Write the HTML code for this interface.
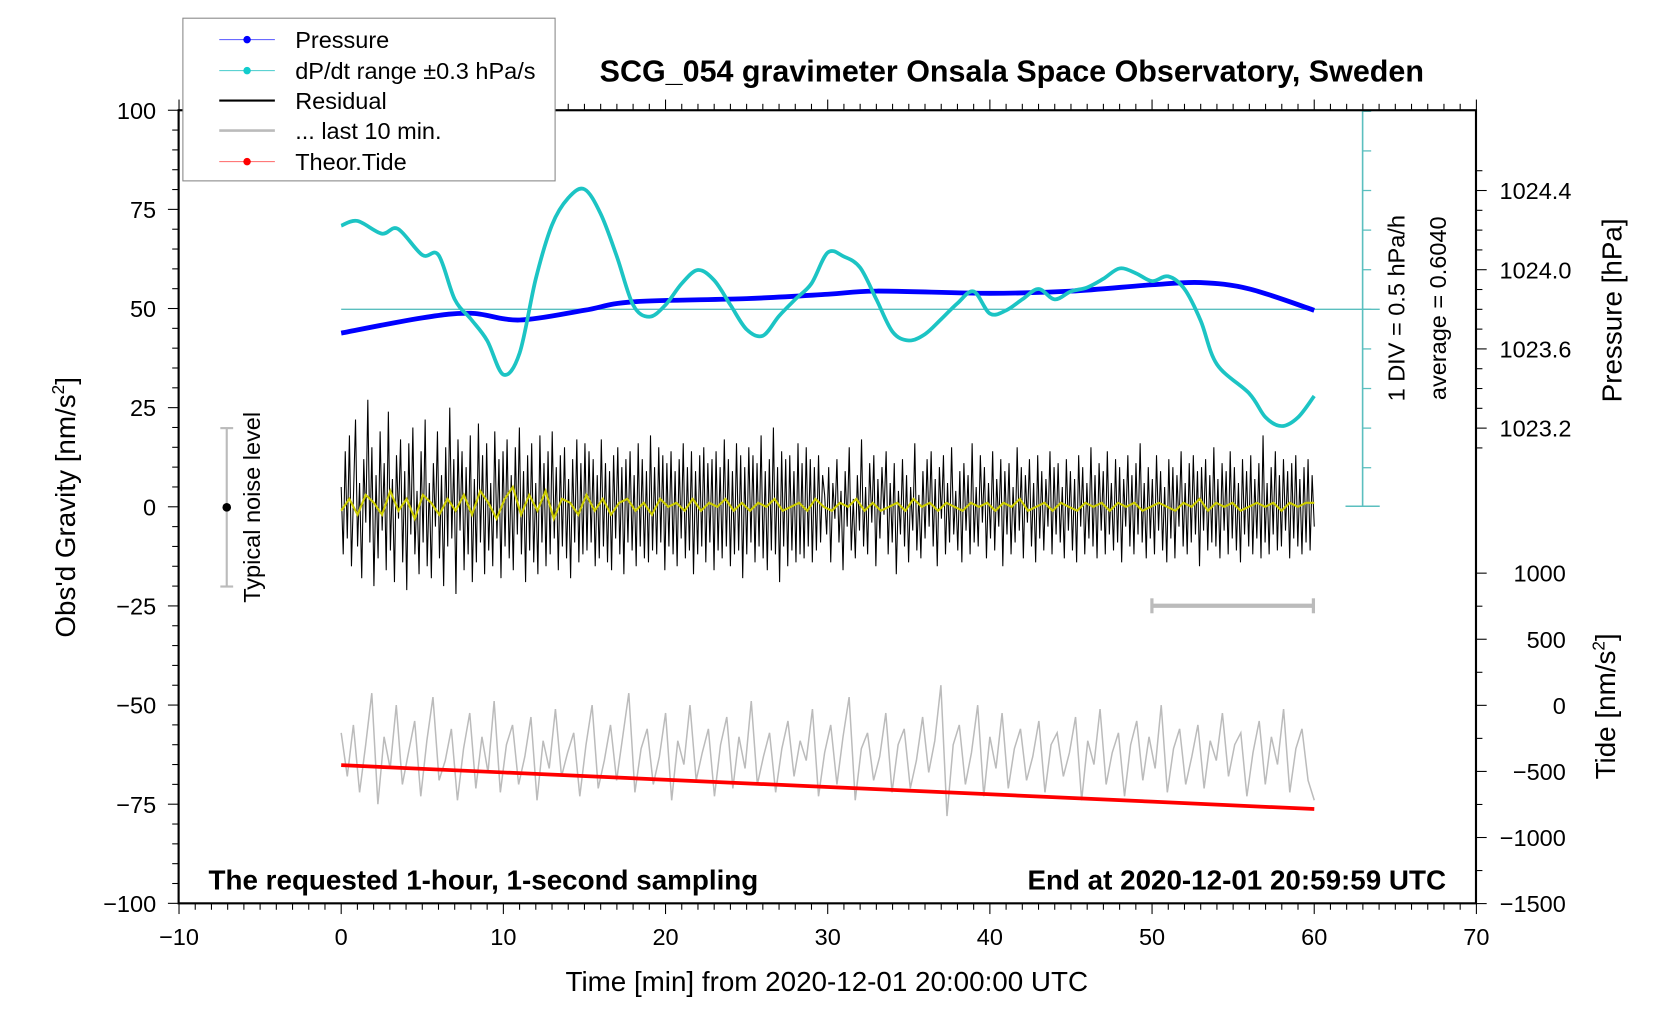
<!DOCTYPE html>
<html><head><meta charset="utf-8"><style>
html,body{margin:0;padding:0;background:#fff;}
svg{display:block;font-family:"Liberation Sans",sans-serif;}
</style></head><body>
<svg id="chart" width="1676" height="1020" viewBox="0 0 1567 953" preserveAspectRatio="none" xmlns="http://www.w3.org/2000/svg">
<rect x="0" y="0" width="1567" height="953" fill="#fff"/>
<g id="plot"></g>
<g id="axes"></g>
<text x="946" y="76" font-size="28.5" font-weight="bold" text-anchor="middle">SCG_054 gravimeter Onsala Space Observatory, Sweden</text>
<text x="195" y="831" font-size="26" font-weight="bold">The requested 1-hour, 1-second sampling</text>
<text x="1352" y="831" font-size="26" font-weight="bold" text-anchor="end">End at 2020-12-01 20:59:59 UTC</text>
<text x="773" y="926" font-size="26" text-anchor="middle">Time [min] from 2020-12-01 20:00:00 UTC</text>
<text transform="translate(70,474) rotate(-90)" font-size="26" text-anchor="middle">Obs'd Gravity [nm/s<tspan font-size="16" dy="-10">2</tspan><tspan dy="10">]</tspan></text>
<text transform="translate(1516,290) rotate(-90)" font-size="26" text-anchor="middle">Pressure [hPa]</text>
<text transform="translate(1510,660) rotate(-90)" font-size="26" text-anchor="middle">Tide [nm/s<tspan font-size="16" dy="-10">2</tspan><tspan dy="10">]</tspan></text>
<text transform="translate(1313,288) rotate(-90)" font-size="22" text-anchor="middle">1 DIV = 0.5 hPa/h</text>
<text transform="translate(1352,288) rotate(-90)" font-size="22" text-anchor="middle">average = 0.6040</text>
<g>
<line x1="212" y1="400" x2="212" y2="548" stroke="#bbb" stroke-width="2"/>
<line x1="206" y1="400" x2="218" y2="400" stroke="#bbb" stroke-width="2"/>
<line x1="206" y1="548" x2="218" y2="548" stroke="#bbb" stroke-width="2"/>
<circle cx="212" cy="474" r="4" fill="#000"/>
<text transform="translate(243,474) rotate(-90)" font-size="22" text-anchor="middle">Typical noise level</text>
</g>
<g>
<line x1="1077" y1="566" x2="1228" y2="566" stroke="#bbb" stroke-width="4"/>
<line x1="1077" y1="559" x2="1077" y2="573" stroke="#bbb" stroke-width="3"/>
<line x1="1228" y1="559" x2="1228" y2="573" stroke="#bbb" stroke-width="3"/>
</g>
<g>
<rect x="171" y="17" width="348" height="152" fill="#fff" stroke="#888" stroke-width="1"/>
<g><line x1="205" y1="37" x2="257" y2="37" stroke="#55f" stroke-width="1"/><circle cx="231" cy="37" r="3.5" fill="#00f"/><text x="276" y="45" font-size="22">Pressure</text></g>
<g><line x1="205" y1="66" x2="257" y2="66" stroke="#4cc" stroke-width="1"/><circle cx="231" cy="66" r="3.5" fill="#1cc"/><text x="276" y="74" font-size="22">dP/dt range ±0.3 hPa/s</text></g>
<g><line x1="205" y1="94" x2="257" y2="94" stroke="#000" stroke-width="2"/><text x="276" y="102" font-size="22">Residual</text></g>
<g><line x1="205" y1="122" x2="257" y2="122" stroke="#bbb" stroke-width="2.5"/><text x="276" y="130" font-size="22">... last 10 min.</text></g>
<g><line x1="205" y1="151" x2="257" y2="151" stroke="#f66" stroke-width="1"/><circle cx="231" cy="151" r="3.5" fill="#f00"/><text x="276" y="159" font-size="22">Theor.Tide</text></g>
</g>
</svg>
<script>
const pressT=[0,5,8,11,15,18,25,30,33,40,45,50,53,56,60];
const pressV=[1023.68,1023.757,1023.78,1023.746,1023.795,1023.838,1023.854,1023.876,1023.892,1023.881,1023.892,1023.924,1023.935,1023.903,1023.795];
const dpT=[0,1,2.5,3.5,5,6,7,8,9,10,11,12,13,14,15,16,17,18,19,20,21,22,23,24,25,26,27,28,29,30,31,32,33,34,35,36,37,38,39,40,41,42,43,44,45,46,47,48,49,50,51,52,53,54,56,57,58,59,60];
const dpV=[1.66,1.72,1.56,1.62,1.29,1.29,0.73,0.48,0.21,-0.22,0.05,0.99,1.67,2.01,2.12,1.81,1.27,0.66,0.51,0.66,0.93,1.10,0.97,0.66,0.35,0.27,0.52,0.73,0.93,1.32,1.27,1.13,0.73,0.32,0.21,0.29,0.48,0.68,0.83,0.55,0.59,0.73,0.86,0.73,0.83,0.88,0.99,1.12,1.06,0.96,1.02,0.86,0.46,-0.09,-0.46,-0.76,-0.87,-0.76,-0.49];
const residV=[5,-12,14,-8,18,-15,3,22,-10,6,-18,12,-4,27,-9,15,-20,8,-13,19,-6,11,-16,24,-11,7,-19,13,-3,17,-14,9,-21,16,-7,20,-12,4,-17,14,
-9,22,-15,6,-18,11,-5,19,-13,8,-20,15,-10,25,-8,12,-22,17,-6,14,-16,10,-12,18,-19,7,-14,21,-9,13,-17,16,-11,6,-15,19,-8,12,-18,14,
-10,17,-13,8,-16,15,-7,20,-12,9,-19,13,-11,16,-14,6,-17,18,-9,11,-15,14,-12,19,-8,10,-16,13,-10,15,-13,7,-18,12,-9,17,-14,11,-12,16,
-11,14,-9,12,-15,8,-13,17,-10,11,-14,9,-16,13,-8,15,-12,10,-17,12,-9,14,-11,8,-15,16,-10,12,-13,9,-14,18,-11,10,-12,15,-9,13,-16,11,
-10,14,-12,9,-15,12,-8,16,-13,10,-11,14,-17,9,-12,13,-10,15,-14,11,-9,12,-16,14,-11,10,-13,17,-10,12,-15,9,-12,16,-11,13,-18,10,
-12,15,-9,13,-14,11,-10,18,-13,9,-16,12,-11,20,-12,10,-19,14,-10,12,-15,13,-11,9,-14,16,-12,11,-13,15,-10,12,-14,10,-11,13,-9,8,
3,-7,10,-14,6,-3,12,-9,4,-16,9,-5,15,-11,2,-13,8,-6,17,-10,5,-12,11,-4,13,-15,7,-8,10,-2,14,-12,6,-9,11,-17,4,-7,12,-10,
8,-14,5,-6,16,-11,3,-13,9,-8,12,-5,14,-10,7,-15,10,-3,13,-12,6,-9,15,-7,4,-11,9,-14,11,-6,8,-12,16,-9,5,-10,13,-4,10,-13,
6,-8,14,-11,7,-5,12,-15,9,-7,11,-12,5,-9,15,-6,10,-13,8,-4,12,-10,6,-14,13,-8,9,-11,7,-5,14,-12,10,-7,11,-9,5,-13,12,-6,
9,-11,7,-14,13,-5,10,-12,6,-8,15,-10,8,-13,11,-6,9,-12,14,-7,6,-11,12,-9,10,-14,7,-5,13,-10,8,-12,11,-7,16,-9,6,-13,10,-8,
7,-12,13,-6,9,-11,5,-14,12,-8,10,-13,8,-5,14,-10,6,-12,11,-9,13,-7,9,-15,10,-6,12,-11,8,-9,15,-10,7,-13,11,-6,9,-12,14,-8,
10,-11,6,-14,12,-7,9,-10,13,-12,7,-8,11,-13,18,-9,6,-12,10,-7,14,-11,8,-10,12,-6,9,-13,11,-8,13,-10,7,-12,10,-9,12,-11,8,-5];
const smoothV=[-1,2,-2,3,1,-2,4,-1,2,-3,3,1,-2,2,-1,3,-2,4,1,-3,2,5,-2,3,-1,4,-3,2,1,-2,3,-1,2,-2,1,2,-1,1,-2,2,
0,1,-1,2,-1,1,0,2,-1,1,-1,1,0,2,-1,0,1,-1,2,0,-1,1,0,2,-1,1,-1,0,1,-1,2,0,1,-1,1,0,-1,1,0,1,
-1,1,0,2,-1,0,1,-1,1,0,-1,1,0,1,-1,1,0,1,-1,0,1,0,-1,1,0,2,-1,1,0,1,-1,0,1,0,1,-1,1,0,1,1];
const greyV=[-57,-68,-55,-72,-60,-47,-75,-58,-66,-50,-70,-62,-54,-73,-59,-48,-69,-64,-56,-74,-61,-52,-71,-58,-67,-49,-72,-60,-55,-70,-63,-53,-74,-59,-66,-51,-68,-62,-57,-73,
-60,-50,-71,-64,-55,-69,-58,-47,-72,-61,-56,-70,-63,-52,-74,-59,-65,-50,-69,-62,-56,-73,-60,-53,-71,-58,-66,-49,-70,-63,-57,-72,-61,-54,-68,-59,-64,-51,-73,-62,
-55,-70,-58,-48,-74,-61,-57,-69,-63,-52,-72,-60,-56,-71,-64,-53,-67,-59,-45,-78,-60,-55,-70,-62,-50,-73,-58,-66,-52,-71,-61,-56,-69,-63,-54,-72,-60,-57,-68,-62,
-53,-74,-59,-65,-51,-70,-62,-57,-73,-60,-54,-69,-58,-66,-50,-72,-61,-56,-70,-63,-55,-71,-59,-64,-52,-68,-60,-57,-73,-62,-54,-70,-58,-65,-51,-72,-61,-56,-69,-74];
const tideT=[0,10,20,30,40,50,60];
const tideV=[-453,-508,-563,-618,-673,-729,-785];
const xTicks=[-10,0,10,20,30,40,50,60,70];
const yTicks=[100,75,50,25,0,-25,-50,-75,-100];
const pTicks=[1024.4,1024.0,1023.6,1023.2];
const tTicks=[1000,500,0,-500,-1000,-1500];

const NS="http://www.w3.org/2000/svg";
const X=t=>319+t*15.1625;
const YL=v=>103+(100-v)*3.705;
const YP=p=>252-(p-1024)*185;
const YT=v=>659-v*0.1235;
const YC=d=>289-(d-0.604)/0.5*37;
const plot=document.getElementById('plot'), axes=document.getElementById('axes');
function mk(tag,attrs,parent){const e=document.createElementNS(NS,tag);for(const k in attrs)e.setAttribute(k,attrs[k]);parent.appendChild(e);return e;}
function path(xs,ys){return xs.map((x,i)=>(i?'L':'M')+x.toFixed(1)+' '+ys[i].toFixed(1)).join('');}
function smoothPath(xs,ys){let d='M'+xs[0]+' '+ys[0];for(let i=0;i<xs.length-1;i++){const x0=xs[Math.max(i-1,0)],y0=ys[Math.max(i-1,0)],x1=xs[i],y1=ys[i],x2=xs[i+1],y2=ys[i+1],x3=xs[Math.min(i+2,xs.length-1)],y3=ys[Math.min(i+2,xs.length-1)];d+='C'+(x1+(x2-x0)/6)+' '+(y1+(y2-y0)/6)+' '+(x2-(x3-x1)/6)+' '+(y2-(y3-y1)/6)+' '+x2+' '+y2;}return d;}

let e;
e=mk('line',{x1:X(0),y1:289,x2:1290,y2:289,stroke:'#5bbfbf','stroke-width':1.2},plot);


e=mk('line',{x1:1274,y1:103,x2:1274,y2:473,stroke:'#5bbfbf','stroke-width':1.5},plot);


for(let k=-4;k<=5;k++){const y=289-k*37;mk('line',{x1:1274,y1:y,x2:1282,y2:y,stroke:'#5bbfbf','stroke-width':1.2},plot);}
mk('line',{x1:1258,y1:473,x2:1290,y2:473,stroke:'#5bbfbf','stroke-width':1.5},plot);
mk('line',{x1:1258,y1:103,x2:1290,y2:103,stroke:'#5bbfbf','stroke-width':1.5},plot);

const gx=greyV.map((v,i)=>X(i*60/(greyV.length-1))), gy=greyV.map(YL);
e=mk('path',{d:path(gx,gy),fill:'none',stroke:'#bbb','stroke-width':1.4},plot);


const rx=residV.map((v,i)=>X(i*60/(residV.length-1))), ry=residV.map(YL);
e=mk('path',{d:path(rx,ry),fill:'none',stroke:'#000','stroke-width':1},plot);


const sx=smoothV.map((v,i)=>X(i*60/(smoothV.length-1))), sy=smoothV.map(YL);
e=mk('path',{d:path(sx,sy),fill:'none',stroke:'#cccc00','stroke-width':2},plot);


e=mk('path',{d:path(tideT.map(X),tideV.map(YT)),fill:'none',stroke:'#f00','stroke-width':3.5},plot);


e=mk('path',{d:smoothPath(pressT.map(X),pressV.map(YP)),fill:'none',stroke:'#00f','stroke-width':4.5},plot);


e=mk('path',{d:smoothPath(dpT.map(X),dpV.map(YC)),fill:'none',stroke:'#1cc4c4','stroke-width':3.5},plot);



e=mk('rect',{x:167,y:103,width:1213,height:741,fill:'none',stroke:'#000','stroke-width':2},axes);


for(let t=-10;t<=70;t++){const x=X(t);const major=t%10===0;
 mk('line',{x1:x,y1:844,x2:x,y2:844+(major?10:6),stroke:'#000','stroke-width':1},axes);
 mk('line',{x1:x,y1:103,x2:x,y2:103-(major?10:6),stroke:'#000','stroke-width':1},axes);}
xTicks.forEach(t=>{const l=mk('text',{x:X(t),y:883,'font-size':22,'text-anchor':'middle'},axes);l.textContent=String(t).replace('-','\u2212');

});
for(let v=-100;v<=100;v+=5){const y=YL(v);mk('line',{x1:167,y1:y,x2:167-(v%25===0?10:6),y2:y,stroke:'#000','stroke-width':1},axes);}
yTicks.forEach(v=>{const l=mk('text',{x:146,y:YL(v)+8,'font-size':22,'text-anchor':'end'},axes);l.textContent=String(v).replace('-','\u2212');

});
for(let p=1023.1;p<=1024.55;p+=0.1){const y=YP(p);if(y<103||y>475)continue;const major=Math.abs(Math.round(p*10)%4)===0;
 mk('line',{x1:1380,y1:y,x2:1380+(major?10:6),y2:y,stroke:'#000','stroke-width':1},axes);}
pTicks.forEach(p=>{const l=mk('text',{x:1402,y:YP(p)+8,'font-size':22},axes);l.textContent=p.toFixed(1);

});
for(let v=-1500;v<=1000;v+=250){const y=YT(v);mk('line',{x1:1380,y1:y,x2:1380+(v%500===0?10:6),y2:y,stroke:'#000','stroke-width':1},axes);}
tTicks.forEach(v=>{const l=mk('text',{x:1464,y:YT(v)+8,'font-size':22,'text-anchor':'end'},axes);l.textContent=String(v).replace('-','\u2212');

});
</script>
</body></html>
